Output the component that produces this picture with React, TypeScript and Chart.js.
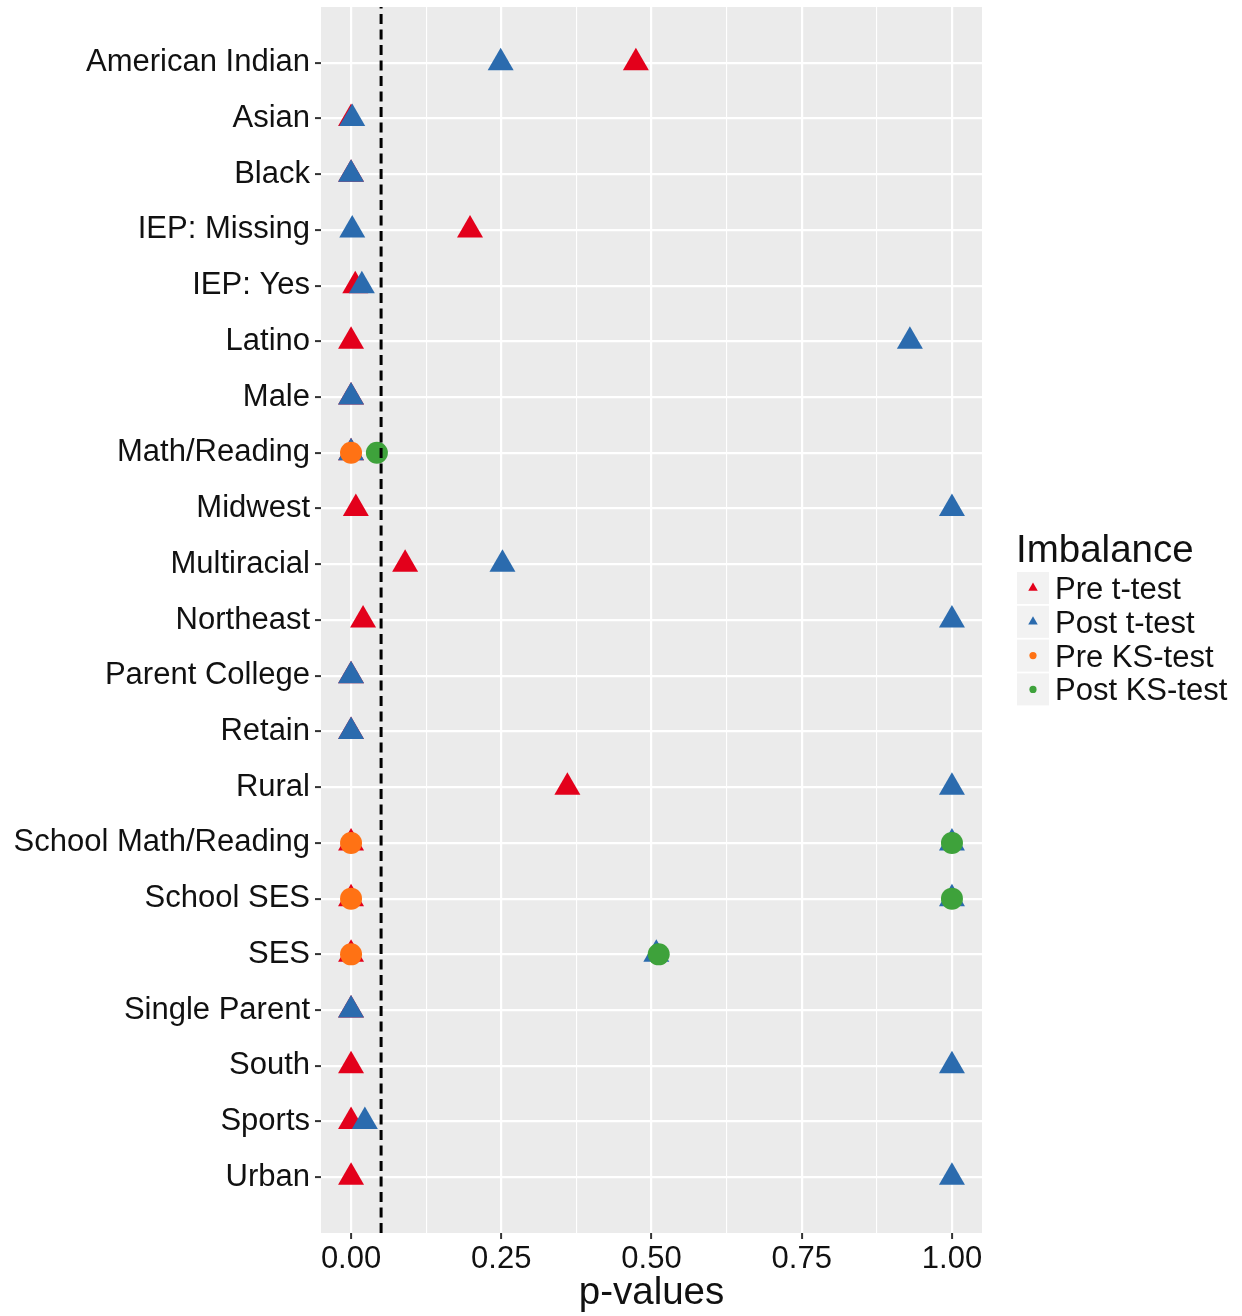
import React, { useEffect, useRef } from 'react';
import { Chart, registerables } from 'chart.js';

Chart.register(...registerables);

const categories = [
  'American Indian', 'Asian', 'Black', 'IEP: Missing', 'IEP: Yes', 'Latino', 'Male',
  'Math/Reading', 'Midwest', 'Multiracial', 'Northeast', 'Parent College', 'Retain', 'Rural',
  'School Math/Reading', 'School SES', 'SES', 'Single Parent', 'South', 'Sports', 'Urban',
];
const preT = [0.474, 0, 0, 0.198, 0.007, 0, 0, 0, 0.008, 0.09, 0.02, 0, 0, 0.36, 0, 0, 0, 0, 0, 0, 0];
const postT = [0.249, 0.002, 0, 0.002, 0.018, 0.93, 0, 0, 1, 0.252, 1, 0, 0, 1, 1, 1, 0.508, 0, 1, 0.023, 1];
const ksCategories = ['Math/Reading', 'School Math/Reading', 'School SES', 'SES'];
const preKS = [0, 0, 0, 0];
const postKS = [0.043, 1, 1, 0.512];
const xMajorTicks = [0, 0.25, 0.5, 0.75, 1];
const xMinorTicks = [0.125, 0.375, 0.625, 0.875];
const threshold = 0.05;
const seriesLabels = ['Pre t-test', 'Post t-test', 'Pre KS-test', 'Post KS-test'];

const RED = '#E3001B';
const BLUE = '#2B6BAE';
const ORANGE = '#FF7214';
const GREEN = '#3EA23B';
const FONT = "'Liberation Sans', Arial, Helvetica, sans-serif";
const TEXT = '#111111';

const panelBg = {
  id: 'panelBg',
  beforeDraw(chart: any) {
    const { ctx, chartArea: a } = chart;
    ctx.save();
    ctx.fillStyle = '#EBEBEB';
    ctx.fillRect(a.left, a.top, a.right - a.left, a.bottom - a.top);
    ctx.restore();
  },
};

const thresholdLine = {
  id: 'thresholdLine',
  afterDatasetsDraw(chart: any) {
    const { ctx, chartArea: a, scales } = chart;
    const x = scales.x.getPixelForValue(threshold);
    ctx.save();
    ctx.strokeStyle = '#000000';
    ctx.lineWidth = 3;
    ctx.setLineDash([10, 5.5]);
    ctx.beginPath();
    ctx.moveTo(x, a.bottom);
    ctx.lineTo(x, a.top);
    ctx.stroke();
    ctx.restore();
  },
};

const legendAndTitle = {
  id: 'legendAndTitle',
  afterDraw(chart: any) {
    const { ctx, chartArea: a } = chart;
    ctx.save();
    // axis title
    ctx.fillStyle = TEXT;
    ctx.font = `38.5px ${FONT}`;
    ctx.textAlign = 'center';
    ctx.textBaseline = 'middle';
    ctx.fillText('p-values', (a.left + a.right) / 2, 1293);

    // legend
    const lx = 1016;
    ctx.textAlign = 'left';
    ctx.textBaseline = 'alphabetic';
    ctx.fillText('Imbalance', lx, 562);
    const order = [3, 2, 1, 0]; // dataset indices for legend order
    const items = order.map((di) => chart.data.datasets[di]);
    items.forEach((ds: any, i: number) => {
      const cy = 588 + i * 33.8;
      ctx.fillStyle = '#F2F2F2';
      ctx.fillRect(lx + 1, cy - 16, 32, 32);
      const cx = lx + 17;
      ctx.fillStyle = ds.backgroundColor;
      ctx.beginPath();
      if (ds.pointStyle === 'triangle') {
        const r = 5.5;
        ctx.moveTo(cx, cy - r);
        ctx.lineTo(cx + r * 0.866, cy + r / 2);
        ctx.lineTo(cx - r * 0.866, cy + r / 2);
        ctx.closePath();
      } else {
        ctx.arc(cx, cy, 3.6, 0, Math.PI * 2);
      }
      ctx.fill();
      ctx.fillStyle = TEXT;
      ctx.font = `31px ${FONT}`;
      ctx.fillText(ds.label, lx + 39, cy + 11);
    });
    ctx.restore();
  },
};

export default function App() {
  const ref = useRef<HTMLCanvasElement | null>(null);

  useEffect(() => {
    if (!ref.current) return;
    const yOf = (name: string) => categories.indexOf(name) + 1;
    const chart = new Chart(ref.current, {
      type: 'scatter',
      data: {
        datasets: [
          {
            label: seriesLabels[3],
            data: ksCategories.map((c, i) => ({ x: postKS[i], y: yOf(c) })),
            backgroundColor: GREEN,
            pointStyle: 'circle',
            pointRadius: 11,
            borderWidth: 0,
          },
          {
            label: seriesLabels[2],
            data: ksCategories.map((c, i) => ({ x: preKS[i], y: yOf(c) })),
            backgroundColor: ORANGE,
            pointStyle: 'circle',
            pointRadius: 11,
            borderWidth: 0,
          },
          {
            label: seriesLabels[1],
            data: categories.map((c, i) => ({ x: postT[i], y: i + 1 })),
            backgroundColor: BLUE,
            pointStyle: 'triangle',
            pointRadius: 15,
            borderWidth: 0,
          },
          {
            label: seriesLabels[0],
            data: categories.map((c, i) => ({ x: preT[i], y: i + 1 })),
            backgroundColor: RED,
            pointStyle: 'triangle',
            pointRadius: 15,
            borderWidth: 0,
          },
        ] as any,
      },
      options: {
        animation: false,
        responsive: false,
        devicePixelRatio: 1,
        layout: { autoPadding: false, padding: { top: 7, right: 260, bottom: 0, left: 0 } },
        plugins: {
          legend: { display: false },
          tooltip: { enabled: false },
          title: { display: false },
        },
        elements: { point: { hoverRadius: 15 } },
        scales: {
          x: {
            type: 'linear',
            min: -0.05,
            max: 1.05,
            afterBuildTicks: (s: any) => {
              s.ticks = [...xMajorTicks, ...xMinorTicks]
                .sort((p, q) => p - q)
                .map((v) => ({ value: v }));
            },
            afterFit: (s: any) => {
              s.height = 83;
              s.paddingLeft = 0;
              s.paddingRight = 0;
            },
            ticks: {
              autoSkip: false,
              maxRotation: 0,
              minRotation: 0,
              padding: 2,
              color: TEXT,
              font: { family: FONT, size: 31 },
              callback: (v: any) => (xMajorTicks.includes(v) ? Number(v).toFixed(2) : ''),
            },
            grid: {
              color: '#FFFFFF',
              lineWidth: (c: any) => (xMajorTicks.includes(c.tick?.value) ? 2.2 : 1.1),
              tickLength: 6,
              tickWidth: 2,
              tickColor: (c: any) => (xMajorTicks.includes(c.tick?.value) ? '#333333' : 'rgba(0,0,0,0)'),
            },
            border: { display: false },
          },
          y: {
            type: 'linear',
            min: 0,
            max: categories.length + 1,
            reverse: true,
            afterBuildTicks: (s: any) => {
              s.ticks = categories.map((_, i) => ({ value: i + 1 }));
            },
            afterFit: (s: any) => {
              s.width = 321;
              s.paddingTop = 0;
              s.paddingBottom = 0;
            },
            ticks: {
              autoSkip: false,
              padding: 5,
              color: TEXT,
              font: { family: FONT, size: 31 },
              callback: (v: any) => categories[Number(v) - 1] ?? '',
            },
            grid: {
              color: '#FFFFFF',
              lineWidth: 2.2,
              tickLength: 6,
              tickWidth: 2,
              tickColor: '#333333',
            },
            border: { display: false },
          },
        },
      } as any,
      plugins: [panelBg, thresholdLine, legendAndTitle],
    });
    return () => chart.destroy();
  }, []);

  return (
    <div style={{ position: 'absolute', left: 0, top: 0, width: 1242, height: 1316, background: '#FFFFFF' }}>
      <canvas ref={ref} width={1242} height={1316} style={{ display: 'block', width: 1242, height: 1316 }} />
    </div>
  );
}
